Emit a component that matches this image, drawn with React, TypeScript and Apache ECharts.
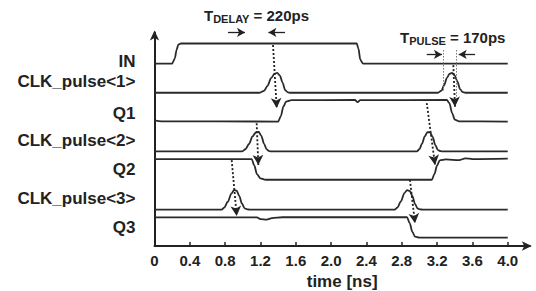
import React, { useEffect, useRef } from "react";
import * as echarts from "echarts";

// ---- axis ticks ----
const tickValues = [0, 0.4, 0.8, 1.2, 1.6, 2.0, 2.4, 2.8, 3.2, 3.6, 4.0];
const tickLabels = ["0", "0.4", "0.8", "1.2", "1.6", "2.0", "2.4", "2.8", "3.2", "3.6", "4.0"];

// ---- signal names and their label positions (y units) ----
const signalNames = ["IN", "CLK_pulse<1>", "Q1", "CLK_pulse<2>", "Q2", "CLK_pulse<3>", "Q3"];
const signalLabelPos = [84.5, 75.4, 60.9, 48.4, 35.2, 21.9, 8.6];

// ---- waveforms: [time ns, level] ----
const inWave: [number, number][] = [
  [0, 83.7], [0.2, 83.7], [0.23, 86], [0.25, 90], [0.27, 92.4], [0.3, 92.9],
  [2.29, 92.9], [2.31, 90.5], [2.33, 85.5], [2.36, 83.7], [4.0, 83.7],
];
const clk1Wave: [number, number][] = [
  [0, 70.3], [1.19, 70.3], [1.24, 71.2], [1.28, 73.5], [1.32, 77], [1.36, 79.1], [1.39, 79.4], [1.42, 78.2],
  [1.45, 75], [1.48, 71.5], [1.51, 70.5], [1.54, 70.3],
  [3.21, 70.3], [3.25, 71.3], [3.28, 73.8], [3.31, 77], [3.34, 79], [3.37, 79.4], [3.4, 78.3],
  [3.43, 75.5], [3.46, 72], [3.49, 70.6], [3.52, 70.3], [4.0, 70.3],
];
const q1Wave: [number, number][] = [
  [0, 57.6], [0.08, 57.2], [1.4, 57.1], [1.43, 59.5], [1.46, 64], [1.49, 66.2], [1.55, 66.9],
  [2.27, 67.0], [2.3, 66.0], [2.33, 66.9], [3.31, 67.0], [3.34, 65.5], [3.37, 61],
  [3.4, 58], [3.45, 57.2], [4.0, 57.1],
];
const clk2Wave: [number, number][] = [
  [0, 43.4], [0.99, 43.4], [1.03, 44.4], [1.07, 46.8], [1.11, 50.3], [1.15, 52.2], [1.18, 52.3],
  [1.21, 50.5], [1.24, 47], [1.27, 44.3], [1.3, 43.5], [1.33, 43.4],
  [2.97, 43.4], [3.0, 44.4], [3.03, 47], [3.06, 50.3], [3.09, 52.2], [3.12, 52.2],
  [3.15, 50], [3.18, 46.3], [3.21, 44], [3.24, 43.5], [3.27, 43.4], [4.0, 43.4],
];
const q2Wave: [number, number][] = [
  [0, 39.9], [1.1, 39.9], [1.13, 37], [1.16, 33], [1.2, 31], [1.26, 30.4],
  [3.14, 30.4], [3.17, 33], [3.2, 37], [3.23, 39.3], [3.3, 39.7], [3.45, 39.4],
  [3.52, 40.2], [3.6, 39.9], [4.0, 40.1],
];
const clk3Wave: [number, number][] = [
  [0, 16.7], [0.76, 16.7], [0.79, 17.6], [0.83, 20.3], [0.87, 24], [0.9, 25.6], [0.93, 25.4],
  [0.96, 23], [0.99, 19.5], [1.02, 17.3], [1.05, 16.8], [1.08, 16.7],
  [2.72, 16.7], [2.75, 17.6], [2.79, 20.5], [2.83, 24.3], [2.86, 25.6], [2.89, 25.3],
  [2.92, 23], [2.95, 19.3], [2.98, 17.2], [3.01, 16.8], [3.04, 16.7], [4.0, 16.7],
];
const q3Wave: [number, number][] = [
  [0, 13.1], [1.16, 13.1], [1.2, 12.3], [1.27, 12.1], [1.33, 12.8], [1.45, 13.2],
  [2.86, 13.2], [2.89, 10.5], [2.92, 6.5], [2.95, 4.3], [3.0, 3.8], [4.0, 3.8],
];

// ---- annotations (time, level) ----
const delayLines: [number, number, number][] = [
  [1.036, 99, 43.4],
  [1.277, 99, 73],
];
const pulseLines: [number, number, number][] = [
  [3.27, 89.9, 70.6],
  [3.42, 89.9, 67.9],
];
const dimArrows: [number, number, number][] = [
  // [fromT, toT, level]
  [0.832, 1.025, 98.0],
  [1.478, 1.29, 98.0],
  [3.083, 3.255, 87.9],
  [3.63, 3.445, 87.9],
];
const causalArrows: [number, number, number, number, number][] = [
  // [fromT, fromV, toT, toV, curveness]
  [1.342, 92.2, 1.384, 63.3, 0.06],
  [3.384, 83.0, 3.403, 63.9, -0.08],
  [1.157, 56.3, 1.176, 37.2, 0.12],
  [0.874, 39.4, 0.931, 13.8, -0.04],
  [3.083, 65.6, 3.177, 37.2, -0.12],
  [2.893, 30.3, 2.95, 10.4, 0.15],
];

const FONT = "'Liberation Sans', Arial, sans-serif";
const WAVE = "#2a2a2a";

export default function App() {
  const ref = useRef<HTMLDivElement>(null);
  useEffect(() => {
    if (!ref.current) return;
    const chart = echarts.init(ref.current, undefined, { renderer: "svg" });
    const waves = [inWave, clk1Wave, q1Wave, clk2Wave, q2Wave, clk3Wave, q3Wave];
    const waveSeries = waves.map((w, i) => ({
      type: "line",
      name: signalNames[i],
      data: w,
      showSymbol: false,
      symbol: "none",
      smooth: 0.3,
      smoothMonotone: "x",
      lineStyle: { color: WAVE, width: 1.8 },
      silent: true,
      clip: false,
    }));
    const rich = (size: number) => ({
      t: { fontFamily: FONT, fontWeight: "bold", fontSize: 15, fill: "#222", verticalAlign: "bottom" },
      s: { fontFamily: FONT, fontWeight: "bold", fontSize: size, fill: "#222", verticalAlign: "bottom", padding: [0, 0, -1, 0] },
      r: { fontFamily: FONT, fontWeight: "bold", fontSize: 15, fill: "#222", verticalAlign: "bottom" },
    });
    const option: any = {
      animation: false,
      backgroundColor: "#ffffff",
      grid: {
        left: 154.5,
        right: 6.2,
        top: 32.4,
        bottom: 45,
        containLabel: false,
        outerBoundsMode: "none",
      },
      xAxis: {
        type: "value",
        min: 0,
        max: 4.25,
        interval: 0.4,
        name: "time [ns]",
        nameLocation: "middle",
        nameGap: 25,
        nameTextStyle: { fontFamily: FONT, fontWeight: "bold", fontSize: 17, color: "#222" },
        axisLine: {
          show: true,
          symbol: ["none", "arrow"],
          symbolSize: [7, 10],
          symbolOffset: [0, 2],
          lineStyle: { color: "#222", width: 2 },
        },
        axisTick: {
          show: true,
          inside: true,
          length: 4,
          customValues: tickValues,
          lineStyle: { color: "#222", width: 1.5 },
        },
        axisLabel: {
          customValues: tickValues,
          margin: 7,
          fontFamily: FONT,
          fontWeight: "bold",
          fontSize: 15,
          color: "#222",
          formatter: (v: number) => {
            const idx = tickValues.findIndex((t) => Math.abs(t - v) < 1e-6);
            return idx >= 0 ? tickLabels[idx] : "";
          },
        },
        splitLine: { show: false },
      },
      yAxis: {
        type: "value",
        min: 0,
        max: 98,
        axisLine: {
          show: true,
          symbol: ["none", "arrow"],
          symbolSize: [7, 10],
          symbolOffset: [0, 2],
          lineStyle: { color: "#222", width: 2 },
        },
        axisTick: { show: false },
        axisLabel: {
          customValues: signalLabelPos,
          margin: 19,
          fontFamily: FONT,
          fontWeight: "bold",
          fontSize: 17,
          color: "#222",
          formatter: (v: number) => {
            const idx = signalLabelPos.findIndex((t) => Math.abs(t - v) < 1e-6);
            return idx >= 0 ? signalNames[idx] : "";
          },
        },
        splitLine: { show: false },
      },
      series: [
        ...waveSeries,
        {
          type: "line",
          data: [],
          clip: false,
          silent: true,
          markLine: {
            silent: true,
            animation: false,
            symbol: ["none", "none"],
            label: { show: false },
            lineStyle: { color: "#777", width: 1, type: [1.5, 1.5] },
            data: [...delayLines, ...pulseLines].map(([t, a, b]) => [
              { coord: [t, a] },
              { coord: [t, b] },
            ]),
          },
        },
        {
          type: "line",
          data: [],
          clip: false,
          silent: true,
          markLine: {
            silent: true,
            animation: false,
            symbol: ["none", "arrow"],
            symbolSize: [7, 8],
            label: { show: false },
            lineStyle: { color: "#222", width: 1.3, type: "solid" },
            data: dimArrows.map(([a, b, v]) => [{ coord: [a, v] }, { coord: [b, v] }]),
          },
        },
        {
          type: "line",
          data: [],
          clip: false,
          silent: true,
          markLine: {
            silent: true,
            animation: false,
            symbol: ["none", "arrow"],
            symbolSize: [8, 10],
            label: { show: false },
            data: causalArrows.map(([t1, v1, t2, v2, c]) => [
              { coord: [t1, v1], lineStyle: { color: "#222", width: 1.8, type: [2, 2], curveness: c } },
              { coord: [t2, v2] },
            ]),
          },
        },
      ],
      graphic: [
        {
          type: "text",
          left: 204,
          top: 8,
          style: { text: "{t|T}{s|DELAY}{r| = 220ps}", rich: rich(11) },
        },
        {
          type: "text",
          left: 400,
          top: 30,
          style: { text: "{t|T}{s|PULSE}{r| = 170ps}", rich: rich(11) },
        },
      ],
    };
    chart.setOption(option);
    return () => chart.dispose();
  }, []);
  return (
    <div
      ref={ref}
      style={{ position: "fixed", left: 0, top: 0, width: 536, height: 291, background: "#fff" }}
    />
  );
}
